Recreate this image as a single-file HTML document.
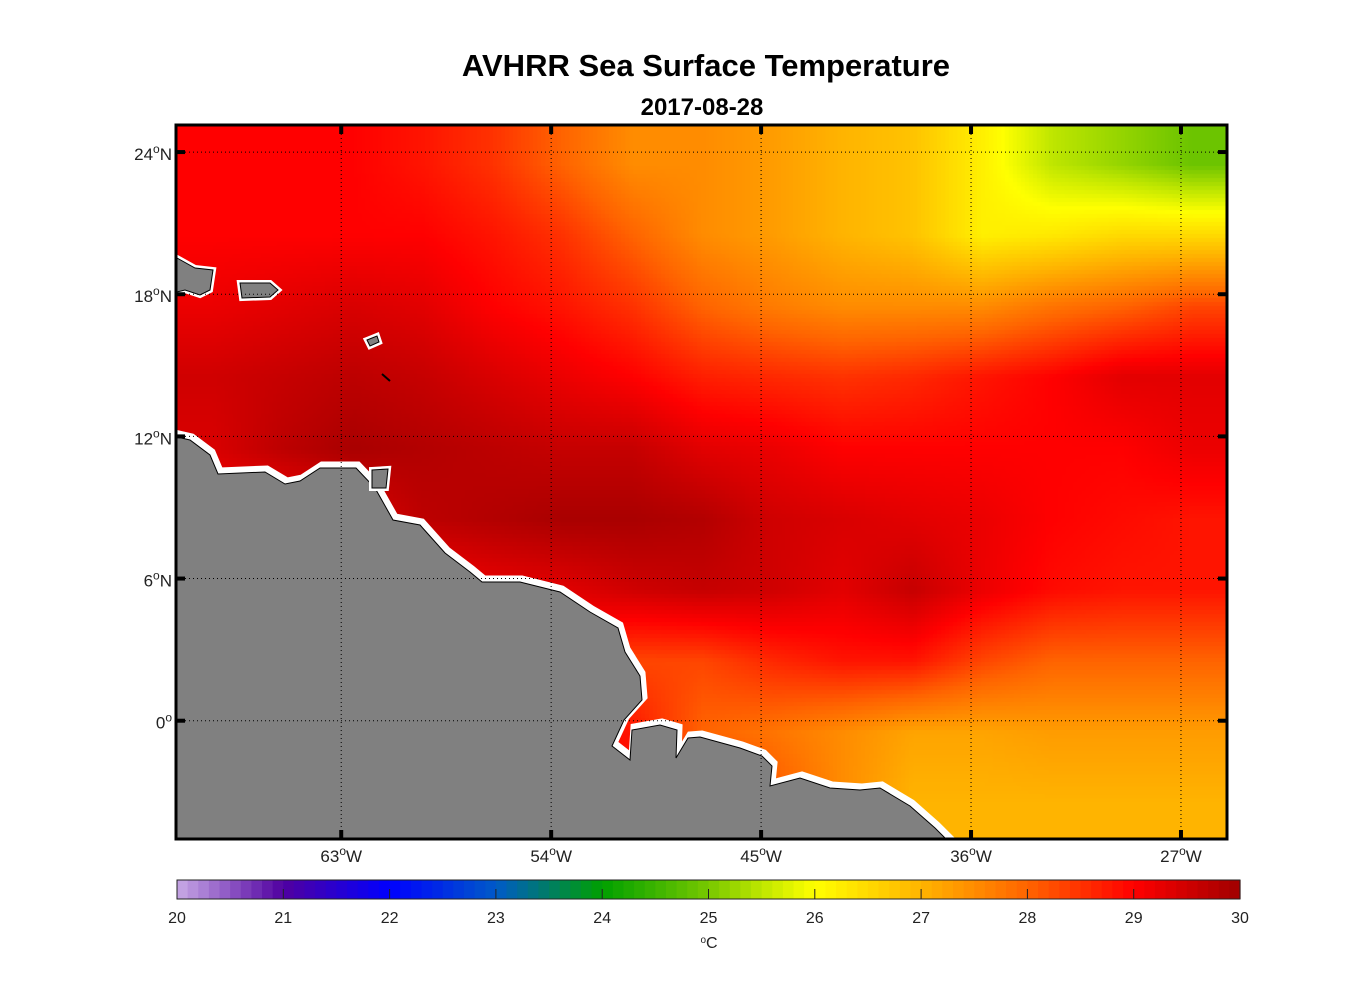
<!DOCTYPE html>
<html><head><meta charset="utf-8"><style>
body{margin:0;background:#fff;width:1356px;height:1000px;overflow:hidden;font-family:"Liberation Sans",sans-serif}
</style></head><body>
<div style="position:relative;width:1356px;height:1000px">
<canvas id="sst" width="1049" height="712" style="position:absolute;left:177px;top:126px"></canvas>
<svg id="ov" width="1356" height="1000" style="position:absolute;left:0;top:0"></svg>
</div>
<script>
const lonCenters=[68.5,65.5,62.5,59.5,56.5,53.5,50.5,47.5,44.5,41.5,38.5,35.5,32.5,29.5,26.5];
const latCenters=[23.5,20.5,17.5,14.5,11.5,8.5,5.5,2.5,-0.5,-3.5];
const row0=[29,29,29,28.8,28.5,28,27.5,27.5,27.3,27,26.8,26.2,25.5,25.2,24.9];
const row1=[29,29,29,29,28.8,28.5,28,27.5,27.3,27,26.8,26.2,26.3,26.5,26.5];
const row2=[29.2,29.3,29.4,29.3,29,28.8,28.5,28,27.7,27.5,27.5,27.5,27.8,28,28.3];
const row3=[29.5,29.6,29.7,29.6,29.4,29.2,29,28.7,28.6,28.5,28.6,28.8,29,29.3,29.3];
const row4=[29.4,29.7,29.9,29.8,29.7,29.6,29.6,29.3,29.2,29,29,29,29,29,29.2];
const row5=[29,29,29.3,29.7,29.8,29.9,29.9,29.8,29.5,29.4,29.3,29.2,29,28.9,28.8];
const row6=[29,29,29,29,29.2,29.3,29.5,29.6,29.5,29.3,29.6,29.2,28.9,28.8,28.8];
const row7=[29,29,29,29,29,28.8,28.3,28.3,28.6,28.8,28.8,28.3,28,28,28];
const row8=[29,29,29,29,29,29,28.8,28,27.8,27.5,27.2,27.2,27.3,27.3,27.3];
const row9=[29,29,29,29,29,29,29,28.8,28.2,27.5,27,27,27,27,27];
const grid=[row0,row1,row2,row3,row4,row5,row6,row7,row8,row9];
const lonTicks=[63,54,45,36,27];
const latTicks=[24,18,12,6,0];
const cbTicks=[20,21,22,23,24,25,26,27,28,29,30];

const stops=[[20,[200,170,230]],[21,[80,0,160]],[22,[0,0,255]],[23,[0,90,200]],[24,[0,160,0]],[25,[120,200,0]],[25.5,[190,230,0]],[26,[255,255,0]],[27,[255,180,0]],[28,[255,100,0]],[29,[255,0,0]],[30,[160,0,0]]];
function cmap(t){t=Math.max(20,Math.min(30,t));for(let i=0;i<stops.length-1;i++){const a=stops[i],b=stops[i+1];if(t<=b[0]){const f=(t-a[0])/(b[0]-a[0]);return a[1].map((v,k)=>Math.round(v+(b[1][k]-v)*f));}}return stops[stops.length-1][1];}
const X0=177,X1=1226,Y0=126,Y1=838;
const lonW=70.04,lonE=25.07,latN=25.1,latS=-4.95;
const xOf=lon=>X0+(lonW-lon)/(lonW-lonE)*(X1-X0);
const yOf=lat=>Y0+(latN-lat)/(latN-latS)*(Y1-Y0);
function val(lon,lat){
  let fi=(lonCenters[0]-lon)/3, fj=(latCenters[0]-lat)/3;
  fi=Math.max(0,Math.min(lonCenters.length-1.001,fi));fj=Math.max(0,Math.min(latCenters.length-1.001,fj));
  const i=Math.floor(fi),j=Math.floor(fj),u=fi-i,v=fj-j;
  return grid[j][i]*(1-u)*(1-v)+grid[j][i+1]*u*(1-v)+grid[j+1][i]*(1-u)*v+grid[j+1][i+1]*u*v;
}
const ctx=document.getElementById('sst').getContext('2d');
const S=4;
for(let py=0;py<712;py+=S)for(let px=0;px<1049;px+=S){
  const lon=lonW-(px+S/2)/(X1-X0)*(lonW-lonE), lat=latN-(py+S/2)/(Y1-Y0)*(latN-latS);
  const c=cmap(val(lon,lat));ctx.fillStyle=`rgb(${c[0]},${c[1]},${c[2]})`;ctx.fillRect(px,py,S,S);
}
const NS='http://www.w3.org/2000/svg',ov=document.getElementById('ov');
function mk(tag,at,parent){const e=document.createElementNS(NS,tag);for(const k in at)e.setAttribute(k,at[k]);(parent||ov).appendChild(e);return e;}
const land=[[177,437],[190,440],[210,455],[218,474],[265,472],[285,484],[300,481],[320,468],[356,468],[375,488],[393,520],[420,525],[445,553],[470,572],[482,582],[520,582],[560,592],[590,612],[618,628],[625,652],[640,676],[642,700],[624,720],[612,746],[630,760],[632,730],[660,725],[677,730],[676,758],[688,738],[700,737],[740,748],[762,756],[772,766],[770,786],[800,778],[830,788],[860,790],[880,788],[910,806],[935,828],[945,838],[177,838]];
const lp=land.map(p=>p.join(',')).join(' ');
let g=mk('g',{});
mk('polygon',{points:lp,fill:'#fff',stroke:'#fff','stroke-width':7,transform:'translate(2,-3)'},g);
mk('polygon',{points:lp,fill:'#808080',stroke:'#000','stroke-width':1},g);
const isl=[[[177,258],[195,268],[213,270],[210,290],[200,295],[185,290],[177,292]],[[240,283],[270,283],[278,290],[270,297],[242,298]],[[367,340],[377,336],[379,342],[370,346]],[[372,470],[388,469],[386,488],[372,488]]];
isl.forEach((pts,k)=>{const s=pts.map(p=>p.join(',')).join(' ');const ig=mk('g',{});
mk('polygon',{points:s,fill:'#fff',stroke:'#fff','stroke-width':6},ig);mk('polygon',{points:s,fill:'#808080',stroke:'#000','stroke-width':1},ig);});
mk('line',{x1:382,y1:374,x2:390,y2:381,stroke:'#000','stroke-width':2});
lonTicks.forEach(l=>{const x=xOf(l);
 const gl=mk('line',{x1:x,y1:Y0,x2:x,y2:Y1,stroke:'#000','stroke-dasharray':'1,3','stroke-width':1});
 mk('rect',{x:x-2,y:Y0,width:4,height:8,fill:'#000'});mk('rect',{x:x-2,y:Y1-8,width:4,height:8,fill:'#000'});
 const t=mk('text',{x:x,y:Y1+24,'text-anchor':'middle','font-size':17,fill:'#222'});t.innerHTML=l+'<tspan dy="-7" font-size="12">o</tspan><tspan dy="7">W</tspan>';});
latTicks.forEach(l=>{const y=yOf(l);
 const gl=mk('line',{x1:X0,y1:y,x2:X1,y2:y,stroke:'#000','stroke-dasharray':'1,3','stroke-width':1});
 mk('rect',{x:X0,y:y-2,width:8,height:4,fill:'#000'});mk('rect',{x:X1-8,y:y-2,width:8,height:4,fill:'#000'});
 const t=mk('text',{x:X0-5,y:y+8,'text-anchor':'end','font-size':17,fill:'#222'});t.innerHTML=l+'<tspan dy="-7" font-size="12">o</tspan><tspan dy="7">'+(l?'N':'')+'</tspan>';});
const fr=mk('rect',{x:X0-1,y:Y0-1,width:X1-X0+2,height:Y1-Y0+2,fill:'none',stroke:'#000','stroke-width':3});
let t=mk('text',{x:706,y:76,'text-anchor':'middle','font-size':31,'font-weight':'bold'});t.textContent='AVHRR Sea Surface Temperature';
t=mk('text',{x:702,y:115,'text-anchor':'middle','font-size':24,'font-weight':'bold'});t.textContent='2017-08-28';
const CB0=177,CB1=1240,cbY=880,cbH=19;
const cx=v=>CB0+(v-20)/10*(CB1-CB0);
const cbg=mk('g',{});
for(let k=0;k<100;k++){const v=20+k*0.1;const c=cmap(v+0.05);mk('rect',{x:cx(v),y:cbY,width:(CB1-CB0)/100+0.6,height:cbH,fill:`rgb(${c})`},cbg);}
mk('rect',{x:CB0,y:cbY,width:CB1-CB0,height:cbH,fill:'none',stroke:'#222','stroke-width':1},cbg);
cbTicks.forEach(v=>{mk('line',{x1:cx(v),y1:cbY+9,x2:cx(v),y2:cbY+cbH,stroke:'#222'},cbg);
 const tl=mk('text',{x:cx(v),y:923,'text-anchor':'middle','font-size':16,fill:'#222'},cbg);tl.textContent=v;});
t=mk('text',{x:709,y:948,'text-anchor':'middle','font-size':16,fill:'#222'});t.innerHTML='<tspan dy="-5" font-size="10">o</tspan><tspan dy="5">C</tspan>';
</script>
</body></html>
